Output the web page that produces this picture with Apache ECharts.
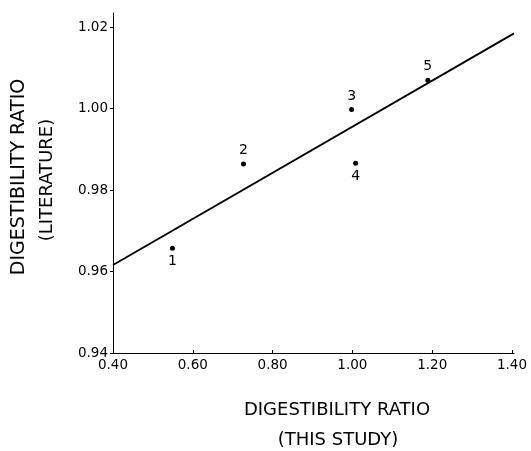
<!DOCTYPE html>
<html><head><meta charset="utf-8">
<script src="https://cdn.jsdelivr.net/npm/echarts@6/dist/echarts.min.js"></script>
<style>html,body{margin:0;padding:0;background:#fff}#c{width:531px;height:451px}</style>
</head><body><div id="c"></div>
<script>
const pointLabels = ['1','2','3','4','5'];
const xValues = [0.549, 0.727, 0.998, 1.008, 1.189];
const yValues = [0.9657, 0.9864, 0.9998, 0.9866, 1.0070];
const labelSide = ['bottom','top','top','bottom','top'];
const fitX = [0.40, 1.405];
const fitY = [0.9616, 1.0185];
const xTicks = [0.40, 0.60, 0.80, 1.00, 1.20, 1.40];
const yTicks = [0.94, 0.96, 0.98, 1.00, 1.02];

const font = 'DejaVu Sans';
const chart = echarts.init(document.getElementById('c'), null, {renderer:'canvas'});
chart.setOption({
  animation:false,
  grid:{left:113, right:17, top:13, bottom:98},
  xAxis:{type:'value', min:0.40, max:1.405,
    axisLine:{lineStyle:{color:'#000', width:1}},
    axisTick:{show:true, inside:true, length:3, customValues:xTicks, lineStyle:{color:'#000'}},
    axisLabel:{customValues:xTicks, color:'#000', fontFamily:font, fontSize:13.5, margin:5,
      formatter:v=>v.toFixed(2)},
    splitLine:{show:false}},
  yAxis:{type:'value', min:0.94, max:1.0235,
    axisLine:{show:true, lineStyle:{color:'#000', width:1}},
    axisTick:{show:true, inside:false, length:3, customValues:yTicks, lineStyle:{color:'#000'}},
    axisLabel:{customValues:yTicks, color:'#000', fontFamily:font, fontSize:13.5, margin:5,
      formatter:v=>v.toFixed(2)},
    splitLine:{show:false}},
  graphic:[
    {type:'text', x:337, y:410, style:{text:'DIGESTIBILITY RATIO', font:'18px "DejaVu Sans"', fill:'#000', align:'center', verticalAlign:'middle'}},
    {type:'text', x:338, y:440, style:{text:'(THIS STUDY)', font:'18px "DejaVu Sans"', fill:'#000', align:'center', verticalAlign:'middle'}},
    {type:'text', x:19, y:177, rotation:Math.PI/2, style:{text:'DIGESTIBILITY RATIO', font:'19px "DejaVu Sans"', fill:'#000', align:'center', verticalAlign:'middle'}},
    {type:'text', x:47, y:180, rotation:Math.PI/2, style:{text:'(LITERATURE)', font:'18px "DejaVu Sans"', fill:'#000', align:'center', verticalAlign:'middle'}}
  ],
  series:[
    {type:'line', data:fitX.map((x,i)=>[x,fitY[i]]), symbol:'none',
      lineStyle:{color:'#000', width:1.8}},
    {type:'scatter', symbolSize:5, itemStyle:{color:'#000', opacity:1},
      data:xValues.map((x,i)=>({value:[x,yValues[i]],
        label:{show:true, formatter:pointLabels[i], position:labelSide[i], distance:4,
          color:'#000', fontFamily:font, fontSize:14}}))}
  ]
});
</script></body></html>
